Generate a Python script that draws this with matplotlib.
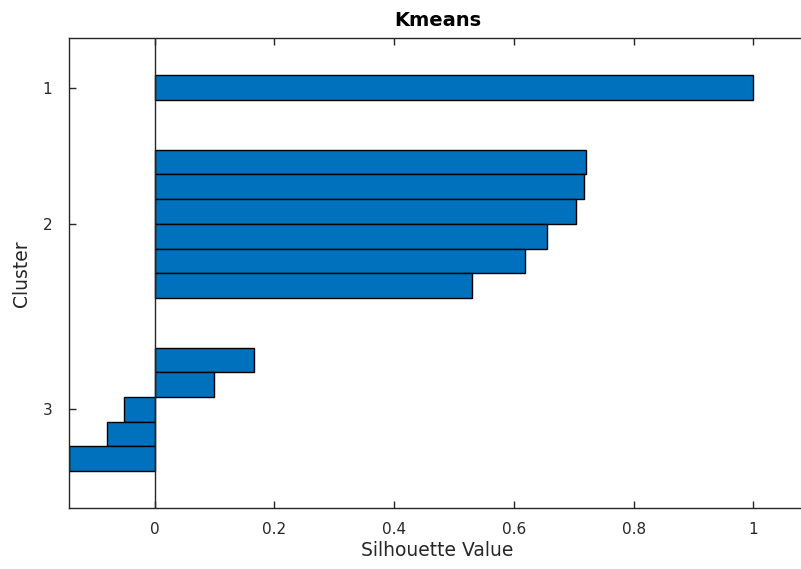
import numpy as np
import matplotlib
matplotlib.use('Agg')
import matplotlib.pyplot as plt

# silhouette values per cluster (sorted descending within cluster)
cluster_ids = [1, 2, 3]
sil_c1 = [1.0]
sil_c2 = [0.720, 0.717, 0.703, 0.655, 0.618, 0.530]
sil_c3 = [0.166, 0.100, -0.051, -0.080, -0.143]
xticks = [0, 0.2, 0.4, 0.6, 0.8, 1]

groups = [sil_c1, sil_c2, sil_c3]
gap = 2
pos = []
vals = []
centers = []
y = 1
for g in groups:
    ys = list(range(y, y + len(g)))
    pos += ys
    vals += g
    centers.append(np.mean(ys))
    y = ys[-1] + 1 + gap

ink = '#262626'
fig = plt.figure(figsize=(8.01, 5.69), dpi=100)
# right edge of the box sits just outside the picture, as in the reference
ax = fig.add_axes([69/801, 60.7/569, (806-69)/801, (508.3-38.3)/569])

ax.barh(pos, vals, height=1.0, color='#0072BD', edgecolor='black', linewidth=1.0, zorder=2)
ax.axvline(0, color=ink, linewidth=1.0, zorder=3)

ax.set_xlim(-0.143, 1.088)
ax.set_ylim(18, -1)
ax.set_xticks(xticks)
ax.set_xticklabels(['0', '0.2', '0.4', '0.6', '0.8', '1'])
ax.set_yticks(centers)
ax.set_yticklabels([str(c) for c in cluster_ids])

ax.tick_params(axis='both', direction='in', length=5, width=1.0, colors=ink,
               labelsize=11, top=True, right=False)
ax.tick_params(axis='x', pad=10)
ax.tick_params(axis='y', pad=12)
for s in ax.spines.values():
    s.set_color(ink)
    s.set_linewidth(1.0)
ax.spines['right'].set_visible(False)

ax.set_xlabel('Silhouette Value', fontsize=13.5, color=ink, labelpad=3)
ax.set_ylabel('Cluster', fontsize=13.5, color=ink, labelpad=8)
ax.set_title('Kmeans', fontsize=14, fontweight='bold', color='black', pad=9)

fig.savefig('out.png', dpi=100)
